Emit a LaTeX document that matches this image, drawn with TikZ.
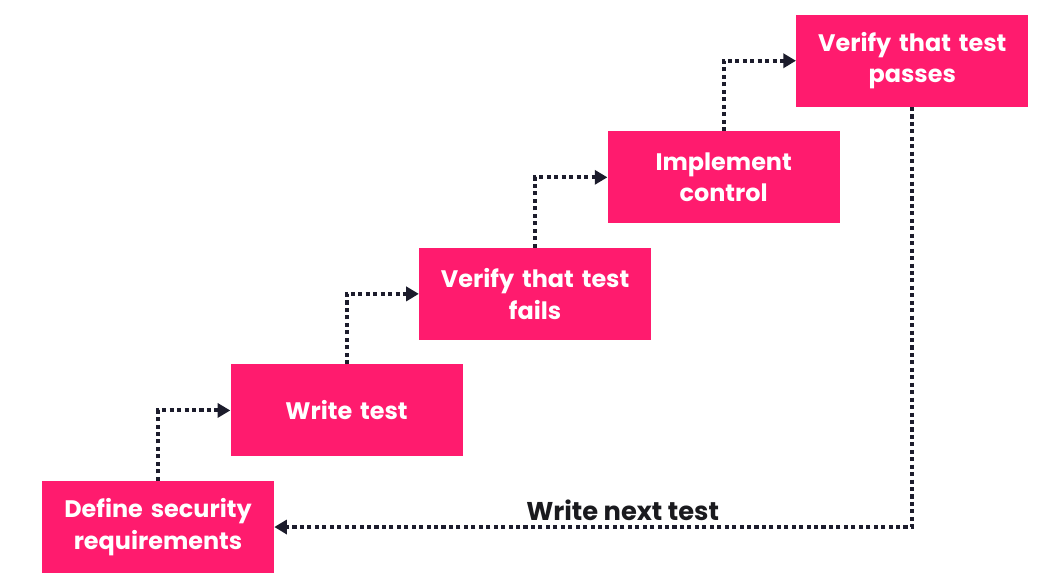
\documentclass[tikz,border=0pt]{standalone}
\usepackage{fontspec}
\setmainfont{Poppins}
\usepackage{tikz}
\usetikzlibrary{arrows.meta, positioning}
\definecolor{pinknode}{RGB}{255,27,110}
\definecolor{darkline}{RGB}{28,28,44}
\definecolor{darktext}{RGB}{26,26,30}
\tikzset{
  stepbox/.style={
    rectangle, fill=pinknode, draw=none,
    minimum width=5.8cm, minimum height=2.3cm,
    text width=5.4cm, align=center, text=white,
    font=\fontsize{17}{22.5}\selectfont\bfseries
  },
  arr/.style={-{Triangle[length=9pt, width=10pt]}, darkline,
    line width=2.9pt, dash pattern=on 2.9pt off 2.4pt},
  lbl/.style={font=\fontsize{18.3}{22}\selectfont\bfseries, text=darktext}
}

\begin{document}
\begin{tikzpicture}[node distance=0.6cm and -1.1cm]

  \useasboundingbox (0,0) rectangle (26.45,-14.65);

  \node[stepbox] (def) at (3.95,-13.175)
        {Define security\\requirements};

  \node[stepbox, above right=of def] (write) {Write test};

  \node[stepbox, above right=of write] (fails)
        {Verify that test\\fails};

  \node[stepbox, above right=of fails] (impl)
        {Implement\\control};

  \node[stepbox, above right=of impl] (passes)
        {Verify that test\\passes};

  \draw[arr] (def.north)   |- (write.west);
  \draw[arr] (write.north) |- (fails.west);
  \draw[arr] (fails.north) |- (impl.west);
  \draw[arr] (impl.north)  |- (passes.west);
  \draw[arr] (passes.south) |- (def.east)
        node[lbl, pos=0.727, above=0pt] {Write next test};

\end{tikzpicture}
\end{document}
